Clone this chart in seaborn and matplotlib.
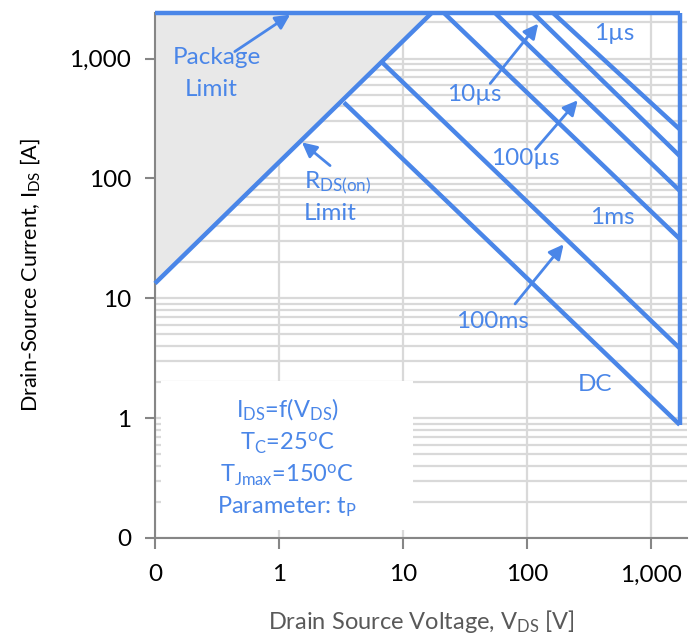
import numpy as np
import pandas as pd
import seaborn as sns
import matplotlib.pyplot as plt
from matplotlib.patches import Rectangle
from matplotlib.ticker import FixedLocator, FixedFormatter, LogLocator, NullFormatter

#%% DATA

# R_DS(on) limit line and package current limit
rds_v = [0.1, 17]
rds_i = [13.3, 2400]
package_v = [0.1, 1700]
package_i = [2400, 2400]

# pulse lines: start on the R_DS(on) line or package limit, end at V_DS max
pulse_names = ['DC', '100ms', '1ms', '100µs', '10µs', '1µs']
pulse_v_start = [3.34, 6.85, 21.4, 55.2, 112, 162]
pulse_i_start = [430, 921, 2400, 2400, 2400, 2400]
pulse_v_end = [1700, 1700, 1700, 1700, 1700, 1700]
pulse_i_end = [0.88, 3.83, 31.3, 79, 154, 257]

# breakdown voltage limit (vertical line at the right)
bv_v = [1700, 1700]
bv_i = [2400, 0.88]

tick_values = [0.1, 1, 10, 100, 1000]
tick_labels = ['0', '1', '10', '100', '1,000']

#%% BUILDING ONE LONG TABLE OF SEGMENTS FOR SEABORN

rows = []
for k, (v, i) in enumerate([(rds_v, rds_i), (package_v, package_i), (bv_v, bv_i)]):
    for vv, ii in zip(v, i):
        rows.append({'curve': 'limit%d' % k, 'V': vv, 'I': ii})
for n, v0, i0, v1, i1 in zip(pulse_names, pulse_v_start, pulse_i_start, pulse_v_end, pulse_i_end):
    rows.append({'curve': n, 'V': v0, 'I': i0})
    rows.append({'curve': n, 'V': v1, 'I': i1})
segs = pd.DataFrame(rows)

#%% PLOT

sns.set_theme(style='white')
plt.rcParams['font.family'] = ['Lato', 'DejaVu Sans']
plt.rcParams['mathtext.fontset'] = 'custom'
plt.rcParams['mathtext.rm'] = 'Lato'
plt.rcParams['mathtext.it'] = 'Lato:italic'

blue = '#4a86e8'
grid_col = '#d9d9d9'

fig = plt.figure(figsize=(6.99, 6.44), dpi=100)
ax = fig.add_axes([0.2217, 0.1646, 0.7613, 0.8152])
ax.set_xscale('log')
ax.set_yscale('log')
ax.set_xlim(0.1, 1950)
ax.set_ylim(0.1, 2400)

# grid: vertical majors only, horizontal majors + minors
ax.set_axisbelow(True)
ax.yaxis.set_minor_locator(LogLocator(base=10, subs=np.arange(2, 10)))
ax.yaxis.set_minor_formatter(NullFormatter())
ax.xaxis.set_minor_locator(FixedLocator([]))
ax.grid(True, which='major', axis='both', color=grid_col, lw=1.6)
ax.grid(True, which='minor', axis='y', color=grid_col, lw=1.6)

# grey area above the R_DS(on) line
ax.fill_between(rds_v, rds_i, 2400, color='#e8e8e8', lw=0, zorder=1)

# white box for the conditions text
ax.add_patch(Rectangle((0.112, 0.117), 12.05 - 0.112, 2.03 - 0.117, facecolor='white',
                       edgecolor='none', zorder=1.5))

sns.lineplot(data=segs, x='V', y='I', units='curve', estimator=None, sort=False,
             color=blue, lw=3.2, ax=ax, zorder=3)
for ln in ax.lines:
    ln.set_clip_on(False)
    ln.set_solid_capstyle('butt')

# ticks
ax.xaxis.set_major_locator(FixedLocator(tick_values))
ax.xaxis.set_major_formatter(FixedFormatter(tick_labels))
ax.yaxis.set_major_locator(FixedLocator(tick_values))
ax.yaxis.set_major_formatter(FixedFormatter(tick_labels))
ax.tick_params(axis='x', which='major', direction='out', length=8, width=1.5, color='#868686',
               labelsize=17.5, pad=11, labelcolor='black', bottom=True)
ax.tick_params(axis='y', which='major', direction='out', length=7, width=1.5, color='#868686',
               labelsize=17.5, pad=10, labelcolor='black', left=True)
ax.tick_params(axis='y', which='minor', left=False)

for s in ['top', 'right']:
    ax.spines[s].set_visible(False)
for s in ['left', 'bottom']:
    ax.spines[s].set_color('#868686')
    ax.spines[s].set_linewidth(1.5)

ax.set_xlabel(r'Drain Source Voltage, V$_{\mathrm{DS}}$ [V]', fontsize=17, color='#595959', labelpad=16)
ax.set_ylabel(r'Drain-Source Current, I$_{\mathrm{DS}}$ [A]', fontsize=15.5, color='black', labelpad=20)

#%% ANNOTATIONS

fs = 17.5
ax.text(0.316, 1020, 'Package', color=blue, fontsize=fs, ha='center', va='center', zorder=4)
ax.text(0.283, 552, 'Limit', color=blue, fontsize=fs, ha='center', va='center', zorder=4)
ax.text(1.59, 84, r'R$_{\mathrm{DS(on)}}$', color=blue, fontsize=fs, ha='left', va='baseline', zorder=4)
ax.text(1.59, 44.7, 'Limit', color=blue, fontsize=fs, ha='left', va='baseline', zorder=4)
ax.text(37.4, 501, '10µs', color=blue, fontsize=fs, ha='center', va='center', zorder=4)
ax.text(96.4, 147, '100µs', color=blue, fontsize=fs, ha='center', va='center', zorder=4)
ax.text(503, 1616, '1µs', color=blue, fontsize=fs, ha='center', va='center', zorder=4)
ax.text(484, 47.3, '1ms', color=blue, fontsize=fs, ha='center', va='center', zorder=4)
ax.text(52.3, 6.43, '100ms', color=blue, fontsize=fs, ha='center', va='center', zorder=4)
ax.text(353, 1.92, 'DC', color=blue, fontsize=fs, ha='center', va='center', zorder=4)

arrows = [((0.44, 1144), (1.23, 2326)),
          ((2.58, 128), (1.53, 200)),
          ((50.4, 619), (123, 1957)),
          ((117, 175), (256, 449)),
          ((80, 8.98), (197, 28.2))]
for tail, head in arrows:
    ax.annotate('', xy=head, xytext=tail,
                arrowprops=dict(arrowstyle='-|>', color=blue, lw=2, mutation_scale=22,
                                shrinkA=0, shrinkB=0), zorder=4)

box_lines = [r'I$_{\mathrm{DS}}$=f(V$_{\mathrm{DS}}$)',
             r'T$_{\mathrm{C}}$=25$^{\mathrm{o}}$C',
             r'T$_{\mathrm{Jmax}}$=150$^{\mathrm{o}}$C',
             r'Parameter: t$_{\mathrm{P}}$']
box_y = [1.166, 0.619, 0.335, 0.181]
for t, y in zip(box_lines, box_y):
    ax.text(1.16, y, t, color=blue, fontsize=17, ha='center', va='center', zorder=4)

plt.savefig('out.png', dpi=100)
